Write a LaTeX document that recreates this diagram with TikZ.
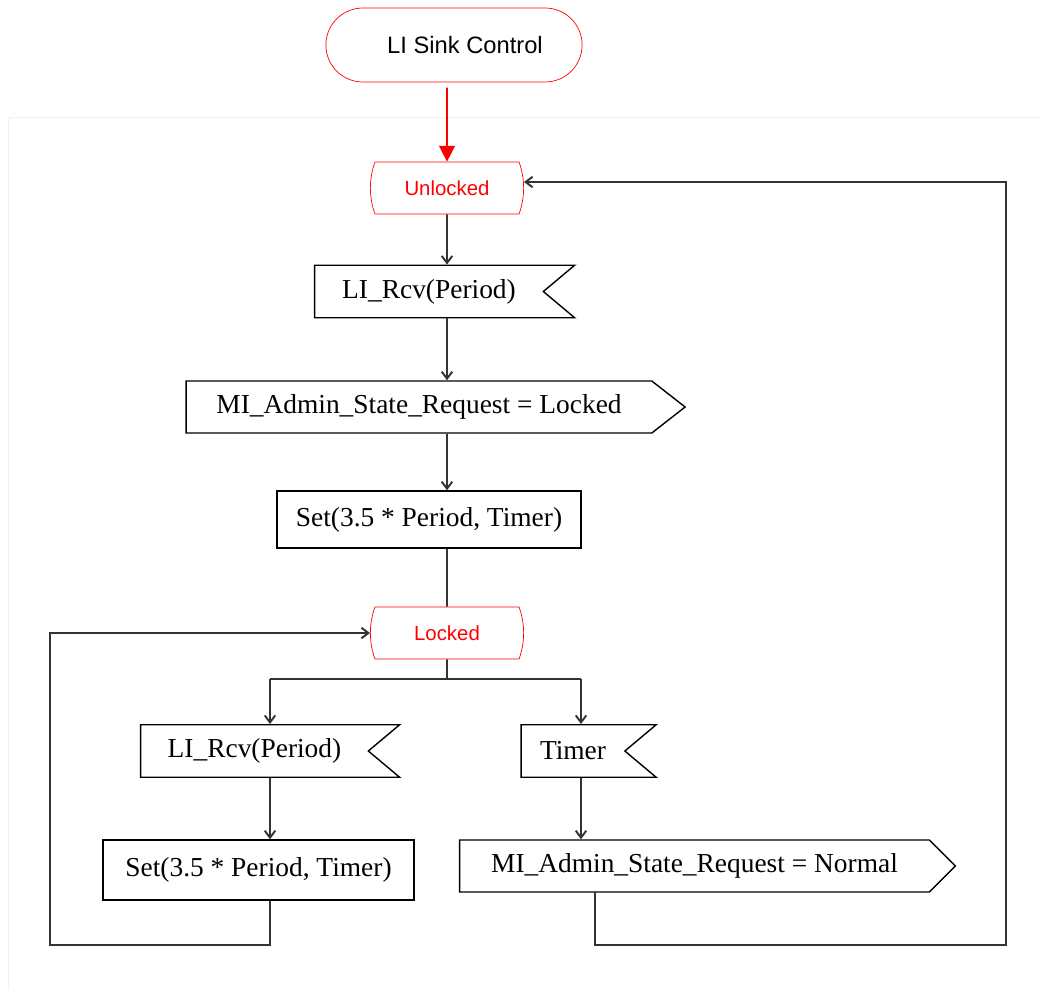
\documentclass[tikz,border=0pt]{standalone}
\usepackage{fontspec}
\setmainfont{Liberation Serif}
\newfontfamily\lisans{Liberation Sans}
\usetikzlibrary{arrows.meta,positioning,shapes.misc,shapes.symbols}

\begin{document}
\begin{tikzpicture}[x=0.02cm, y=-0.02cm,
    % --- Node styles ---
    terminal/.style={draw=red, thin, rounded rectangle, minimum width=5.36cm,
                     minimum height=1.48cm, font=\lisans\fontsize{13.5}{16}\selectfont},
    state/.style={draw=red, thin, rounded rectangle, rounded rectangle arc length=40,
                  minimum width=3.3cm, minimum height=1.04cm, text=red,
                  font=\lisans\fontsize{11.6}{14}\selectfont},
    input/.style={draw, line width=0.8pt, signal, signal to=nowhere, signal from=east,
                  signal pointer angle=80, minimum height=1.05cm, inner sep=0pt,
                  font=\fontsize{15.6}{18}\selectfont},
    output/.style={draw, line width=0.8pt, signal, signal to=east, signal pointer angle=#1,
                   minimum height=1.04cm, inner sep=0pt, font=\fontsize{15.6}{18}\selectfont},
    task/.style={draw, line width=0.8pt, rectangle, inner sep=0pt,
                 font=\fontsize{15.6}{18}\selectfont},
    % --- Edge styles ---
    flow/.style={line width=1.1pt, black!80, -{Straight Barb[length=4pt,width=6pt]}},
    start arrow/.style={red, line width=0.9pt, shorten <=3pt, -{Triangle[length=9pt,width=9pt]}},
]
\useasboundingbox (0,0) rectangle (1041,990);

% faint frame of the process diagram
\draw[black!6] (8,990) -- (8,117) -- (1041,117);

% ============================================================
% Start and Unlocked branch
% ============================================================
\node[terminal] (start) at (454,45) {\hspace*{0.44cm}LI Sink Control};
\node[state] (unlocked) at (447,188) {Unlocked};

\node[input, minimum width=5.2cm] (rcv1) at (429,291.5) {LI\_Rcv(Period)};
\node[output=76, minimum width=9.98cm] (lockreq) at (419,407) {MI\_Admin\_State\_Request = Locked};
\node[task, minimum width=6.08cm, minimum height=1.14cm] (set1) at (429,519.5) {Set(3.5 * Period, Timer)};

\node[state] (locked) at (447,633) {Locked};

% ============================================================
% Locked branch
% ============================================================
\coordinate (forkL) at (270,679);
\coordinate (forkR) at (581,679);

\node[input, minimum width=5.18cm] (rcv2) at (254.5,751) {LI\_Rcv(Period)};
\node[input, minimum width=2.7cm] (timer) at (573,751) {Timer};
\node[task, minimum width=6.22cm, minimum height=1.2cm] (set2) at (258.5,870) {Set(3.5 * Period, Timer)};
\node[output=90, minimum width=9.92cm] (normreq) at (694.5,866) {MI\_Admin\_State\_Request = Normal};

% loop corners
\coordinate (loopL) at (50,945);
\coordinate (loopR) at (1006,945);
\coordinate (nout) at (595,892);

% --- Connectors ---
\draw[start arrow] (unlocked |- start.south) -- (unlocked);
\draw[flow] (unlocked) -- (unlocked |- rcv1.north);
\draw[flow] (unlocked |- rcv1.south) -- (unlocked |- lockreq.north);
\draw[flow] (unlocked |- lockreq.south) -- (unlocked |- set1.north);
\draw[line width=1.1pt, black!80] (unlocked |- set1.south) -- (locked);

\draw[line width=1.1pt, black!80] (locked) -- (locked |- forkL);
\draw[line width=1.1pt, black!80] (forkL) -- (forkR);
\draw[flow] (forkL) -- (forkL |- rcv2.north);
\draw[flow] (forkR) -- (forkR |- timer.north);
\draw[flow] (forkL |- rcv2.south) -- (forkL |- set2.north);
\draw[flow] (forkR |- timer.south) -- (forkR |- normreq.north);

% return paths
\draw[flow] (forkL |- set2.south) |- (loopL) |- (locked.west);
\draw[flow] (nout) |- (loopR) |- ([yshift=0.12cm]unlocked.east);

\end{tikzpicture}
\end{document}
